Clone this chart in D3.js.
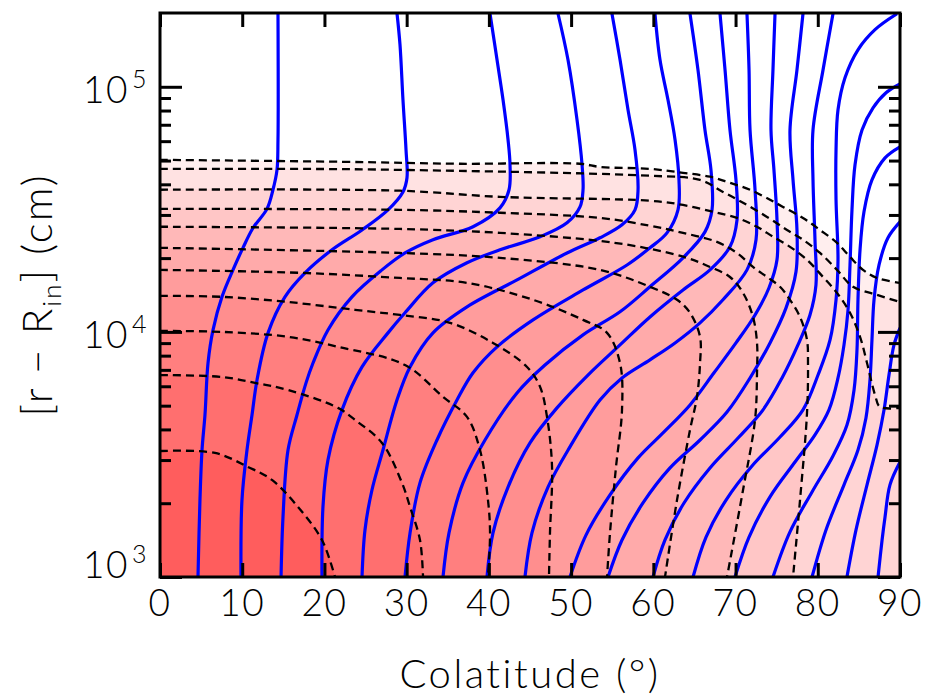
<!DOCTYPE html>
<html><head><meta charset="utf-8">
<script src="https://cdn.jsdelivr.net/npm/d3@7"></script>
<style>
body{margin:0;background:#fff}
svg text{font-family:Lato,"Liberation Sans",sans-serif;font-weight:300;fill:#000}
</style>
</head><body>
<svg id="chart" width="927" height="700"></svg>
<script>
// ---------------- data (colatitude in degrees, log10 of [r - R_in] in cm) ----------------
const xTickValues = [0,10,20,30,40,50,60,70,80,90];
const yMajorTicks = [1e3,1e4,1e5];
const yMinorTicks = [2e3,3e3,4e3,5e3,6e3,7e3,8e3,9e3,2e4,3e4,4e4,5e4,6e4,7e4,8e4,9e4];
const yTickExponents = ["3","4","5"];
const xTitle = "Colatitude (°)";

// density contours (dashed), outermost first
const contour1 = [[0,4.702],[22.14,4.694],[36.49,4.686],[51.08,4.686],[53.51,4.673],[59.59,4.665],[63.61,4.649],[66.89,4.633],[69.32,4.608],[71.76,4.580],[74.19,4.539],[75.77,4.510],[78.20,4.465],[80.27,4.416],[82.34,4.363],[83.92,4.306],[85.50,4.253],[87.21,4.220],[90,4.200]];
const contour2 = [[0,4.665],[17.03,4.665],[29.19,4.661],[59.59,4.637],[65.68,4.620],[68.47,4.571],[70.91,4.527],[73.83,4.469],[76.26,4.416],[78.20,4.376],[80.27,4.322],[82.34,4.253],[84.29,4.184],[87.21,4.151],[90,4.122]];
const contour3 = [[0,4.580],[29.19,4.576],[41.35,4.551],[59.59,4.535],[63.61,4.518],[67.26,4.490],[70.18,4.465],[72.61,4.429],[74.56,4.388],[76.62,4.347],[78.69,4.294],[80.64,4.224],[82.34,4.159],[83.92,4.078],[85.14,3.980],[85.99,3.873],[86.96,3.743],[87.57,3.694],[90,3.690]];
const contour4 = [[0,4.502],[29.19,4.498],[41.35,4.486],[53.51,4.465],[59.59,4.433],[63.61,4.404],[67.74,4.367],[70.18,4.322],[72.12,4.265],[73.83,4.224],[75.41,4.184],[76.62,4.131],[77.84,4.061],[78.69,3.967],[78.81,3.873],[78.69,3.669],[77.84,3.314],[76.99,3.0]];
const contour5 = [[0,4.429],[29.19,4.420],[41.35,4.404],[53.51,4.371],[59.59,4.339],[64.10,4.302],[66.89,4.265],[69.32,4.224],[70.91,4.159],[72.12,4.061],[72.61,3.955],[72.61,3.833],[72.37,3.641],[70.91,3.355],[68.96,3.0]];
const contour6 = [[0,4.343],[29.19,4.322],[41.35,4.302],[53.51,4.253],[59.59,4.184],[62.88,4.131],[64.46,4.078],[65.68,3.980],[65.68,3.873],[65.31,3.735],[64.46,3.600],[62.88,3.314],[61.42,3.0]];
const contour7 = [[0,4.253],[17.03,4.241],[29.19,4.220],[37.34,4.200],[45.37,4.131],[51.45,4.049],[54.37,3.996],[55.95,3.873],[56.19,3.682],[55.46,3.449],[54.73,3.180],[54.37,3.0]];
const contour8 = [[0,4.147],[7.54,4.143],[15.57,4.122],[23.72,4.090],[29.19,4.069],[35.27,4.037],[40.50,3.955],[44.64,3.857],[46.22,3.776],[47.07,3.653],[47.68,3.449],[47.43,3.180],[47.31,3.0]];
const contour9 = [[0,4.004],[7.54,4.000],[15.57,3.980],[21.65,3.939],[29.80,3.865],[34.42,3.735],[37.34,3.653],[38.92,3.518],[39.89,3.314],[40.14,3.180],[39.89,3.0]];
const contour10 = [[0,3.824],[7.54,3.816],[11.55,3.792],[15.57,3.763],[21.65,3.690],[23.72,3.641],[27.00,3.547],[29.43,3.384],[30.41,3.286],[31.62,3.151],[31.99,3.0]];
const contour11 = [[0,3.514],[6.69,3.506],[10.70,3.449],[13.62,3.396],[16.78,3.286],[19.70,3.151],[21.28,3.0]];

// field lines (solid blue), from the base upward
const field1 = [[4.62,3.0],[4.86,3.314],[5.11,3.518],[5.47,3.661],[5.84,3.873],[6.45,4.008],[7.54,4.143],[8.88,4.253],[10.09,4.343],[11.31,4.424],[13.01,4.502],[13.74,4.580],[14.23,4.661],[14.35,4.784],[14.35,5.298]];
const field2 = [[9.85,3.0],[9.97,3.314],[10.58,3.518],[11.19,3.661],[11.80,3.804],[13.14,3.996],[15.20,4.143],[17.64,4.241],[20.92,4.335],[24.57,4.416],[27.73,4.498],[29.55,4.571],[30.04,4.629],[29.92,4.743],[29.55,4.947],[29.19,5.171],[28.83,5.298]];
const field3 = [[14.72,3.0],[14.96,3.245],[15.57,3.518],[16.66,3.661],[17.76,3.792],[18.61,3.873],[20.43,4.008],[23.35,4.143],[27.00,4.253],[29.80,4.322],[33.20,4.376],[38.07,4.429],[41.35,4.506],[42.45,4.580],[42.57,4.682],[42.33,4.784],[41.72,4.947],[40.99,5.110],[40.14,5.298]];
const field4 = [[19.70,3.0],[19.82,3.286],[20.43,3.478],[22.14,3.682],[24.57,3.857],[27.73,3.996],[29.80,4.078],[33.20,4.200],[37.34,4.282],[41.35,4.335],[46.22,4.388],[49.50,4.445],[51.08,4.510],[51.45,4.580],[51.33,4.682],[50.72,4.865],[49.62,5.110],[48.41,5.298]];
const field5 = [[24.57,3.0],[24.93,3.192],[25.78,3.355],[27.12,3.518],[28.82,3.722],[30.41,3.857],[33.20,3.996],[37.34,4.102],[43.42,4.212],[49.50,4.322],[53.51,4.384],[56.19,4.437],[57.77,4.498],[58.14,4.580],[57.77,4.743],[56.92,4.906],[55.95,5.110],[54.97,5.298]];
const field6 = [[29.80,3.0],[30.41,3.180],[31.62,3.384],[33.69,3.559],[36.12,3.722],[38.07,3.833],[40.99,3.939],[45.37,4.049],[51.45,4.171],[56.80,4.273],[59.59,4.343],[61.66,4.404],[63.00,4.498],[63.12,4.620],[62.64,4.784],[61.78,4.947],[60.81,5.110],[60.20,5.298]];
const field7 = [[34.42,3.0],[35.15,3.180],[36.85,3.384],[39.53,3.559],[43.42,3.751],[46.82,3.865],[51.45,3.988],[55.95,4.082],[59.59,4.184],[63.61,4.302],[66.28,4.408],[67.14,4.498],[67.01,4.661],[66.28,4.824],[65.43,5.069],[64.46,5.298]];
const field8 = [[39.77,3.0],[40.50,3.180],[42.33,3.367],[45.00,3.547],[48.28,3.690],[52.05,3.824],[55.95,3.947],[59.59,4.061],[63.61,4.171],[66.89,4.253],[69.32,4.347],[70.18,4.457],[70.05,4.620],[69.32,4.824],[68.72,5.069],[68.11,5.298]];
const field9 = [[44.39,3.0],[45.24,3.180],[47.19,3.367],[49.86,3.531],[53.51,3.722],[56.19,3.812],[59.59,3.886],[62.64,3.955],[65.68,4.037],[68.47,4.131],[71.39,4.253],[72.49,4.376],[72.37,4.580],[71.76,4.824],[71.64,5.069],[71.39,5.298]];
const field10 = [[49.86,3.0],[51.81,3.171],[54.73,3.335],[58.14,3.486],[61.30,3.592],[64.46,3.702],[67.38,3.833],[70.05,3.955],[72.37,4.069],[74.07,4.180],[75.04,4.294],[75.04,4.457],[74.67,4.661],[74.31,4.824],[74.55,5.069],[74.80,5.298]];
const field11 = [[54.49,3.0],[56.19,3.151],[58.74,3.302],[62.03,3.445],[65.68,3.559],[68.96,3.673],[71.76,3.812],[74.19,3.955],[76.14,4.098],[77.35,4.245],[77.47,4.416],[76.99,4.620],[76.62,4.824],[77.47,5.069],[78.20,5.298]];
const field12 = [[59.96,3.0],[61.42,3.151],[63.73,3.302],[66.89,3.445],[70.30,3.567],[73.34,3.682],[75.65,3.812],[77.59,3.947],[79.05,4.069],[79.78,4.192],[79.66,4.376],[79.42,4.620],[79.42,4.824],[80.64,5.069],[81.85,5.298]];
const field13 = [[64.83,3.0],[66.41,3.163],[68.84,3.314],[72.00,3.453],[75.41,3.571],[78.20,3.682],[80.03,3.824],[81.49,3.967],[82.22,4.131],[82.46,4.294],[82.22,4.539],[82.22,4.743],[82.46,4.906],[83.31,5.037],[84.89,5.151],[86.96,5.233],[89.64,5.298]];
const field14 = [[69.93,3.0],[71.64,3.163],[74.19,3.327],[77.23,3.469],[79.66,3.580],[81.36,3.682],[82.46,3.812],[83.19,3.947],[83.68,4.090],[83.92,4.273],[84.16,4.498],[84.53,4.682],[85.38,4.824],[86.72,4.914],[88.30,4.976],[90,5.012]];
const field15 = [[74.55,3.0],[76.62,3.184],[79.30,3.347],[81.85,3.494],[83.55,3.620],[84.41,3.763],[84.77,3.927],[84.89,4.131],[85.14,4.335],[85.62,4.490],[86.59,4.620],[88.18,4.710],[90,4.755]];
const field16 = [[79.30,3.0],[81.00,3.192],[83.19,3.376],[84.89,3.518],[85.86,3.649],[86.35,3.804],[86.59,3.967],[86.84,4.131],[87.45,4.273],[88.54,4.384],[90,4.449]];
const field17 = [[83.55,3.0],[84.65,3.192],[85.99,3.376],[87.21,3.539],[88.06,3.682],[88.66,3.824],[89.27,3.947],[90,4.016]];
const field18 = [[87.33,3.0],[87.82,3.151],[88.18,3.245],[88.78,3.376],[90,3.469]];

const densityContours = [contour1,contour2,contour3,contour4,contour5,contour6,contour7,contour8,contour9,contour10,contour11];
const fieldLines = [field1,field2,field3,field4,field5,field6,field7,field8,field9,field10,field11,field12,field13,field14,field15,field16,field17,field18];

// ---------------- styles ----------------
const bandColors = ["#ffeeee","#ffe2e2","#ffd4d4","#ffc6c6","#ffb8b8","#ffaaaa","#ff9c9c","#ff8e8e","#ff7f7f","#ff6f6f","#ff5d5d"];
const P = {left:160, right:900, top:13, bottom:577};

const svg = d3.select("#chart");
const x = d3.scaleLinear().domain([0,90]).range([P.left,P.right]);
const y = d3.scaleLog().domain([1e3,2e5]).range([P.bottom,P.top]);

svg.append("defs").append("clipPath").attr("id","plotclip")
  .append("rect").attr("x",P.left).attr("y",P.top).attr("width",P.right-P.left).attr("height",P.bottom-P.top);

const line = d3.line().x(d=>x(d[0])).y(d=>y(Math.pow(10,d[1]))).curve(d3.curveCatmullRom.alpha(0.5));
const plot = svg.append("g").attr("clip-path","url(#plotclip)");

// filled bands
plot.selectAll("path.band").data(densityContours).join("path").attr("class","band")
  .attr("d",c=>{const last=c[c.length-1];return line(c)+`L${x(last[0])},${y(1e3)}L${x(0)},${y(1e3)}Z`;})
  .attr("fill",(c,i)=>bandColors[i]).attr("stroke","none");

// field lines
plot.selectAll("path.field").data(fieldLines).join("path").attr("class","field")
  .attr("d",line).attr("fill","none").attr("stroke","#0000ff").attr("stroke-width",3.2);

// dashed density contours
plot.selectAll("path.dens").data(densityContours).join("path").attr("class","dens")
  .attr("d",line).attr("fill","none").attr("stroke","#000").attr("stroke-width",2.3).attr("stroke-dasharray","8 5");

// axes (ticks pointing inward)
function styleAxis(g){g.select(".domain").remove();g.selectAll(".tick line").attr("stroke","#000").attr("stroke-width",3);g.selectAll(".tick text").remove();}
svg.append("g").attr("transform",`translate(0,${P.bottom})`).call(d3.axisBottom(x).tickValues(xTickValues).tickSize(-14)).call(styleAxis);
svg.append("g").attr("transform",`translate(0,${P.top})`).call(d3.axisTop(x).tickValues(xTickValues).tickSize(-14)).call(styleAxis);
svg.append("g").attr("transform",`translate(${P.left},0)`).call(d3.axisLeft(y).tickValues(yMajorTicks).tickSize(-22)).call(styleAxis);
svg.append("g").attr("transform",`translate(${P.left},0)`).call(d3.axisLeft(y).tickValues(yMinorTicks).tickSize(-11)).call(styleAxis);
svg.append("g").attr("transform",`translate(${P.right},0)`).call(d3.axisRight(y).tickValues(yMajorTicks).tickSize(-22)).call(styleAxis);
svg.append("g").attr("transform",`translate(${P.right},0)`).call(d3.axisRight(y).tickValues(yMinorTicks).tickSize(-11)).call(styleAxis);

svg.append("rect").attr("x",P.left).attr("y",P.top).attr("width",P.right-P.left).attr("height",P.bottom-P.top)
  .attr("fill","none").attr("stroke","#000").attr("stroke-width",3);

// x tick labels
svg.append("g").selectAll("text").data(xTickValues).join("text")
  .attr("x",d=>x(d)).attr("y",P.bottom+39).attr("text-anchor","middle").attr("font-size",37).attr("letter-spacing",1.5).text(d=>d);

// y tick labels: 10^n
const yl = svg.append("g");
yMajorTicks.forEach((v,i)=>{
  const base = Math.min(y(v)+16, P.bottom+1);
  yl.append("text").attr("x",129).attr("y",base).attr("text-anchor","end").attr("font-size",37).attr("letter-spacing",1.5).text("10");
  yl.append("text").attr("x",132).attr("y",base-15).attr("font-size",25).text(yTickExponents[i]);
});

// axis titles
svg.append("text").attr("x",(P.left+P.right)/2).attr("y",688).attr("text-anchor","middle").attr("font-size",40).attr("letter-spacing",2.5).text(xTitle);
const yt = svg.append("text").attr("transform",`translate(52,${(P.top+P.bottom)/2}) rotate(-90)`).attr("text-anchor","middle").attr("font-size",42).attr("letter-spacing",2);
yt.append("tspan").text("[r \u2212 R");
yt.append("tspan").attr("font-size",26).attr("dy",9).text("in");
yt.append("tspan").attr("dy",-9).text("] (cm)");
</script>
</body></html>
